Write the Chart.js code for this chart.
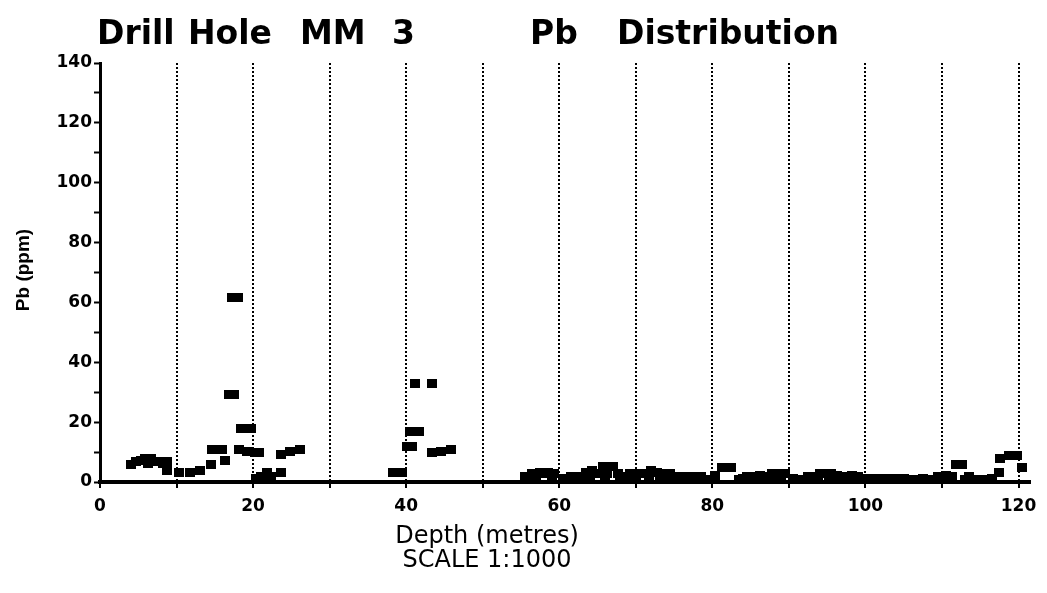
<!DOCTYPE html>
<html>
<head>
<meta charset="utf-8">
<script src="https://cdn.jsdelivr.net/npm/chart.js@4.4.1/dist/chart.umd.min.js"></script>
<style>
  html, body { margin: 0; padding: 0; background: #fff; }
</style>
</head>
<body>
<canvas id="chart" width="1047" height="593"></canvas>
<script>
/* ---------------- DATA ---------------- */

// depth down the hole (m)
const depth = [
  4.0, 4.7, 5.3, 5.9, 6.3, 6.7, 7.2, 7.7, 8.2, 8.8, 8.8,
  10.3, 11.7, 13.0, 14.5, 14.6, 15.9, 16.3, 16.9, 17.5, 17.2, 18.0,
  18.4, 19.0, 19.7, 18.1, 19.2, 20.2, 20.8,
  20.4, 21.0, 21.8, 22.3, 23.6, 23.6, 24.8, 26.1,
  38.3, 39.5, 40.1, 40.8, 40.5, 41.7, 41.2, 43.4, 43.4, 44.6, 45.8,
  55.5, 56.5, 57.5, 58.5, 59.3, 60.5, 61.5, 62.3, 63.5, 64.3, 65.0, 65.7, 66.3, 67.0, 67.7, 68.5, 69.3,
  70.5, 71.3, 72.0, 72.8, 73.7, 74.5, 75.5, 76.3, 77.3, 78.5, 79.5,
  80.3, 81.2, 82.5, 83.5, 84.5, 85.3, 86.2, 87.0, 87.8, 88.7, 89.5,
  90.5, 91.5, 92.5, 93.3, 94.0, 94.8, 95.5, 96.3, 97.2, 98.2, 99.0,
  100.0, 101.0, 102.0, 103.0, 104.0, 105.0, 106.5, 107.5, 108.5, 109.5,
  110.5, 111.3, 111.8, 112.6, 113.5, 114.5, 115.5, 116.5, 117.5, 117.6, 118.8, 119.8, 120.5,
  56.0, 57.0, 58.0, 59.0, 61.0, 62.8, 64.0, 66.0, 68.0, 69.0, 70.0, 71.7, 73.2, 74.0, 75.0,
  76.8, 77.8, 79.0, 84.0, 85.8, 86.6, 88.2, 89.0, 91.0, 92.0, 93.8, 95.2, 96.8, 97.7, 98.6,
  99.5, 100.5, 101.5, 102.5, 103.5, 104.5, 105.5, 106.0, 107.0, 108.0, 109.0, 110.0, 113.0, 114.0, 116.0
];

// Pb (ppm)
const pb = [
  6.0, 6.7, 7.3, 8.0, 6.3, 7.7, 6.7, 7.0, 6.3, 6.7, 3.7,
  3.3, 3.3, 4.0, 5.7, 11.0, 11.0, 7.3, 29.3, 29.3, 61.7, 61.7,
  18.0, 18.0, 18.0, 11.0, 10.3, 10.0, 10.0,
  1.3, 2.0, 3.3, 2.0, 3.3, 9.3, 10.3, 10.7,
  3.3, 3.3, 11.7, 11.7, 17.0, 17.0, 33.0, 33.0, 10.0, 10.3, 10.7,
  2.0, 3.0, 3.3, 3.3, 3.0, 1.3, 1.7, 2.0, 3.3, 3.7, 2.7, 5.3, 3.0, 5.3, 2.7, 2.0, 3.0,
  2.7, 3.0, 3.7, 3.3, 2.7, 3.0, 2.0, 1.7, 2.0, 1.7, 1.0,
  2.3, 5.0, 5.0, 0.7, 2.0, 2.0, 2.3, 2.0, 3.0, 2.7, 2.7,
  1.3, 0.7, 1.7, 2.0, 2.7, 3.0, 3.0, 2.3, 2.0, 2.3, 1.7,
  1.3, 1.3, 1.3, 1.3, 1.3, 1.3, 1.0, 1.3, 1.0, 1.7,
  2.3, 1.7, 6.0, 6.0, 1.7, 1.0, 0.7, 1.3, 3.3, 8.0, 9.0, 9.0, 5.0,
  1.3, 2.3, 2.7, 2.0, 1.0, 1.3, 2.3, 2.0, 1.7, 1.3, 1.0, 2.0, 2.3, 1.7, 1.3,
  1.0, 1.3, 0.7, 1.3, 1.0, 1.7, 2.0, 1.7, 1.0, 1.0, 1.7, 2.0, 1.3, 1.0, 1.3,
  0.7, 0.7, 0.7, 0.7, 0.7, 0.7, 0.7, 0.7, 0.7, 0.7, 0.7, 1.0, 1.0, 0.7, 0.7
];

const xTickLabels = [0, 20, 40, 60, 80, 100, 120];
const yTickLabels = [0, 20, 40, 60, 80, 100, 120, 140];

/* ---------------- MARKER ---------------- */

const marker = document.createElement("canvas");
marker.width = 10;
marker.height = 9;
const mctx = marker.getContext("2d");
mctx.fillStyle = "#000";
mctx.fillRect(0, 0, 10, 9);

/* ---------------- TEXT ---------------- */

const textPlugin = {
  id: "textPlugin",
  afterDraw(chart) {
    const ctx = chart.ctx;
    ctx.save();
    ctx.fillStyle = "#000";
    ctx.textBaseline = "alphabetic";
    ctx.textAlign = "left";

    // title
    ctx.font = 'bold 33px "DejaVu Sans"';
    ctx.fillText("Drill", 97, 44);
    ctx.fillText("Hole", 188, 44);
    ctx.fillText("MM", 300, 44);
    ctx.fillText("3", 392, 44);
    ctx.fillText("Pb", 530, 44);
    ctx.fillText("Distribution", 617, 44);

    // x title
    ctx.textAlign = "center";
    ctx.font = '24px "DejaVu Sans"';
    ctx.fillText("Depth (metres)", 487, 543);
    ctx.fillText("SCALE 1:1000", 487, 567);

    // y title
    ctx.translate(24, 270);
    ctx.rotate(-Math.PI / 2);
    ctx.textBaseline = "middle";
    ctx.font = 'bold 19px "Liberation Sans"';
    ctx.fillText("Pb (ppm)", 0, 0);
    ctx.restore();
  }
};

/* ---------------- CHART ---------------- */

const tickFont = { family: "DejaVu Sans", weight: "bold", size: 17 };

new Chart(document.getElementById("chart"), {
  type: "scatter",
  data: {
    datasets: [{
      data: depth.map((d, i) => ({ x: d, y: pb[i] })),
      pointStyle: marker,
      pointRadius: 5,
      backgroundColor: "#000",
      borderColor: "#000"
    }]
  },
  options: {
    responsive: false,
    animation: false,
    layout: { padding: { top: 63, right: 17, left: 0, bottom: 0 } },
    plugins: {
      legend: { display: false },
      tooltip: { enabled: false },
      title: { display: false }
    },
    scales: {
      x: {
        type: "linear",
        min: 0,
        max: 121.5,
        afterFit: s => { s.height = 111; },
        ticks: {
          stepSize: 10,
          includeBounds: false,
          autoSkip: false,
          maxRotation: 0,
          padding: 8,
          color: "#000",
          font: tickFont,
          callback: v => xTickLabels.includes(v) ? v : ""
        },
        grid: {
          color: c => (c.tick && c.tick.value === 0) ? "rgba(0,0,0,0)" : "#000",
          lineWidth: 2,
          tickColor: "#000",
          tickLength: 6,
          tickWidth: 2
        },
        border: { color: "#000", width: 4, dash: [2, 2] }
      },
      y: {
        min: 0,
        max: 140,
        afterFit: s => { s.width = 100; },
        ticks: {
          stepSize: 10,
          autoSkip: false,
          padding: 2,
          color: "#000",
          font: tickFont,
          callback: v => yTickLabels.includes(v) ? v : ""
        },
        grid: {
          drawOnChartArea: false,
          tickColor: "#000",
          tickLength: 6,
          tickWidth: 2
        },
        border: { color: "#000", width: 3 }
      }
    }
  },
  plugins: [textPlugin]
});
</script>
</body>
</html>
